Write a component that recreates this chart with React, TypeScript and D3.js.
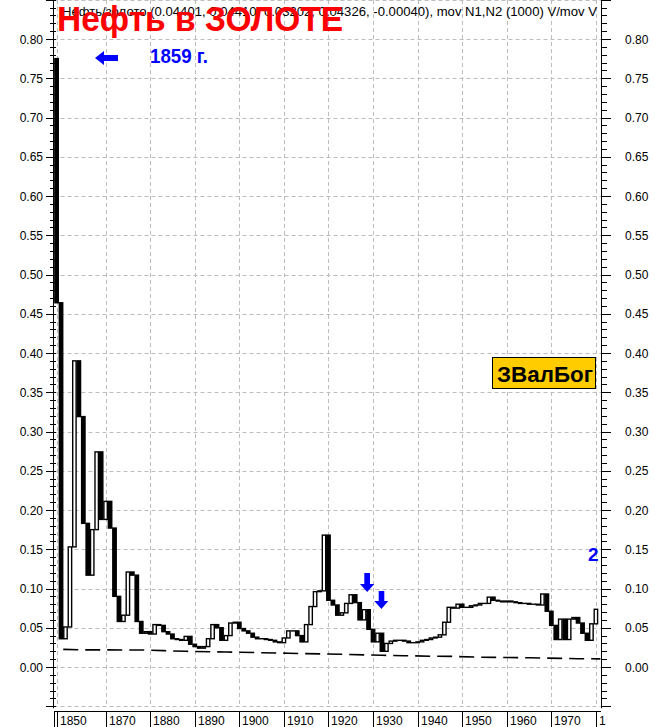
import React from "react";
import * as d3 from "d3";

const firstOpen = 0.775;
const years: number[] = d3.range(1859, 1981);
const closes: number[] = [
  0.464, 0.036, 0.051, 0.153, 0.39, 0.319, 0.183, 0.117, 0.175, 0.274, 0.188,
  0.211, 0.177, 0.09, 0.058, 0.066, 0.121, 0.117, 0.058, 0.043, 0.045,
  0.042, 0.054, 0.053, 0.045, 0.042, 0.036, 0.035, 0.034, 0.039, 0.029,
  0.026, 0.024, 0.026, 0.036, 0.054, 0.05, 0.034, 0.04, 0.056, 0.057,
  0.049, 0.046, 0.043, 0.038, 0.036, 0.036, 0.035, 0.034, 0.032, 0.031,
  0.037, 0.046, 0.046, 0.04, 0.032, 0.054, 0.077, 0.096, 0.097, 0.168,
  0.085, 0.079, 0.066, 0.069, 0.081, 0.092, 0.082, 0.06, 0.073, 0.048,
  0.032, 0.043, 0.02, 0.03, 0.033, 0.034, 0.034, 0.033, 0.031, 0.031,
  0.032, 0.034, 0.035, 0.037, 0.038, 0.041, 0.057, 0.076, 0.075, 0.08,
  0.076, 0.076, 0.078, 0.079, 0.081, 0.081, 0.089, 0.085, 0.084, 0.083,
  0.084, 0.083, 0.082, 0.081, 0.081, 0.08, 0.08, 0.079, 0.093, 0.071,
  0.053, 0.035, 0.061, 0.035, 0.061, 0.063, 0.056, 0.043, 0.034, 0.055,
  0.0735,
];

const movYears: number[] = [1860.5, 1865, 1878, 1883, 1888, 1897, 1905, 1911, 1923, 1932, 1937, 1943, 1948, 1954, 1965, 1976, 1981];
const movValues: number[] = [0.0225, 0.0218, 0.0217, 0.0208, 0.02, 0.0191, 0.0182, 0.0175, 0.0162, 0.0149, 0.0144, 0.0137, 0.0135, 0.0125, 0.0118, 0.0106, 0.0104];

const xLabelYears: number[] = [1859, 1870, 1880, 1890, 1900, 1910, 1920, 1930, 1940, 1950, 1960, 1970, 1980];
const xLabelTexts: string[] = ["1850", "1870", "1880", "1890", "1900", "1910", "1920", "1930", "1940", "1950", "1960", "1970", "1"];
const yTickValues: number[] = d3.range(0, 17).map((i) => i * 0.05);

const headerText = "Нефть/золото (0.04401, 0.04410, 0.03202, 0.04326, -0.00040), mov N1,N2 (1000)  V/mov V";
const titleText = "Нефть в ЗОЛОТЕ";

const FONT = "'Liberation Sans', Arial, sans-serif";

export default function App() {
  const W = 655, H = 727;
  const x = d3.scaleLinear().domain([1870, 1980]).range([105.6, 595.9]);
  const y = d3.scaleLinear().domain([0, 0.8]).range([667, 39]);
  const leftAxisX = 53.5;
  const rightAxisX = 601;
  const plotBottom = y(-0.05);
  const gridColor = "#bdbdbd";

  const minorTicks = d3.range(-5, 86).map((i) => i / 100);
  const gridY = d3.range(-1, 18).map((i) => i * 0.05);

  const bars = years.map((yr, i) => {
    const open = i === 0 ? firstOpen : closes[i - 1];
    const close = closes[i];
    return { yr, open, close };
  });

  const movLine = d3
    .line<number>()
    .x((_, i) => x(movYears[i]))
    .y((d) => y(d));

  const bw = 3.4;

  return (
    <svg
      width={W}
      height={H}
      style={{ position: "absolute", left: 0, top: 0, background: "#fff" }}
      fontFamily={FONT}
    >
      <rect x={0} y={0} width={W} height={H} fill="#fff" />
      {gridY.map((v, i) => (
        <line key={"gy" + i} x1={leftAxisX} x2={rightAxisX} y1={Math.round(y(v)) + 0.5} y2={Math.round(y(v)) + 0.5}
          stroke={gridColor} strokeDasharray="4 3" />
      ))}
      {xLabelYears.map((yr, i) => (
        <line key={"gx" + i} x1={Math.round(x(yr)) + 0.5} x2={Math.round(x(yr)) + 0.5} y1={0} y2={plotBottom}
          stroke={gridColor} strokeDasharray="4 3" />
      ))}
      <path d={movLine(movValues) || ""} fill="none" stroke="#000" strokeWidth={1.6} strokeDasharray="15 7" />
      {bars.map((b, i) => {
        const top = y(Math.max(b.open, b.close));
        const bot = y(Math.min(b.open, b.close));
        const down = b.close < b.open;
        return (
          <rect key={"b" + i} x={x(b.yr) - bw / 2} y={top} width={bw} height={Math.max(0.01, bot - top)}
            fill={down ? "#000" : "#fff"} stroke="#000" strokeWidth={1.4} />
        );
      })}
      <line x1={leftAxisX} x2={leftAxisX} y1={0} y2={plotBottom + 2} stroke="#000" />
      {minorTicks.map((v, i) => (
        <line key={"lm" + i} x1={50} x2={56} y1={Math.round(y(v)) + 0.5} y2={Math.round(y(v)) + 0.5} stroke="#000" />
      ))}
      {gridY.map((v, i) => (
        <line key={"lM" + i} x1={46} x2={56} y1={Math.round(y(v)) + 0.5} y2={Math.round(y(v)) + 0.5} stroke="#000" />
      ))}
      {yTickValues.map((v, i) => (
        <text key={"ll" + i} x={43} y={y(v) + 4.5} fontSize={12} textAnchor="end" fill="#000">
          {d3.format(".2f")(v)}
        </text>
      ))}
      <line x1={rightAxisX + 0.5} x2={rightAxisX + 0.5} y1={0} y2={plotBottom + 2} stroke="#000" />
      {minorTicks.map((v, i) => (
        <line key={"rm" + i} x1={rightAxisX} x2={607} y1={Math.round(y(v)) + 0.5} y2={Math.round(y(v)) + 0.5} stroke="#000" />
      ))}
      {gridY.map((v, i) => (
        <line key={"rM" + i} x1={rightAxisX} x2={611} y1={Math.round(y(v)) + 0.5} y2={Math.round(y(v)) + 0.5} stroke="#000" />
      ))}
      {yTickValues.map((v, i) => (
        <text key={"rl" + i} x={625} y={y(v) + 4.5} fontSize={12} fill="#000">
          {d3.format(".2f")(v)}
        </text>
      ))}
      <line x1={54} x2={rightAxisX} y1={711.5} y2={711.5} stroke="#000" />
      <line x1={54.5} x2={54.5} y1={712} y2={727} stroke="#000" />
      {xLabelYears.map((yr, i) => (
        <g key={"xl" + i}>
          <line x1={Math.round(x(yr)) + 0.5} x2={Math.round(x(yr)) + 0.5} y1={712} y2={727} stroke="#000" />
          <text x={Math.round(x(yr)) + 3} y={725} fontSize={12} fill="#000">{xLabelTexts[i]}</text>
        </g>
      ))}
      <text x={62} y={16} fontSize={12} fill="#000" textLength={535} lengthAdjust="spacingAndGlyphs">{headerText}</text>
      <text x={57} y={31} fontSize={35} fontWeight="bold" fill="#ff0000" textLength={286} lengthAdjust="spacingAndGlyphs">{titleText}</text>
      <path d="M95,58 L104,51 L104,55 L118,55 L118,61 L104,61 L104,65 Z" fill="#0000ff" />
      <text x={150} y={63} fontSize={21} fontWeight="bold" fill="#0000ff" textLength={58} lengthAdjust="spacingAndGlyphs">1859 г.</text>
      <path d="M364.3,573 L370,573 L370,584 L374.3,584 L367.2,592 L360,584 L364.3,584 Z" fill="#0000ff" />
      <path d="M378.7,591 L384.3,591 L384.3,601 L388.3,601 L381.4,609 L374.3,601 L378.7,601 Z" fill="#0000ff" />
      <rect x={492.5} y={357.5} width={103} height={31} fill="#ffcc00" stroke="#000" />
      <text x={497} y={382} fontSize={22} fontWeight="bold" fill="#000" textLength={96} lengthAdjust="spacingAndGlyphs">ЗВалБог</text>
      <text x={588} y={561} fontSize={19} fontWeight="bold" fill="#0000ff">2</text>
    </svg>
  );
}
